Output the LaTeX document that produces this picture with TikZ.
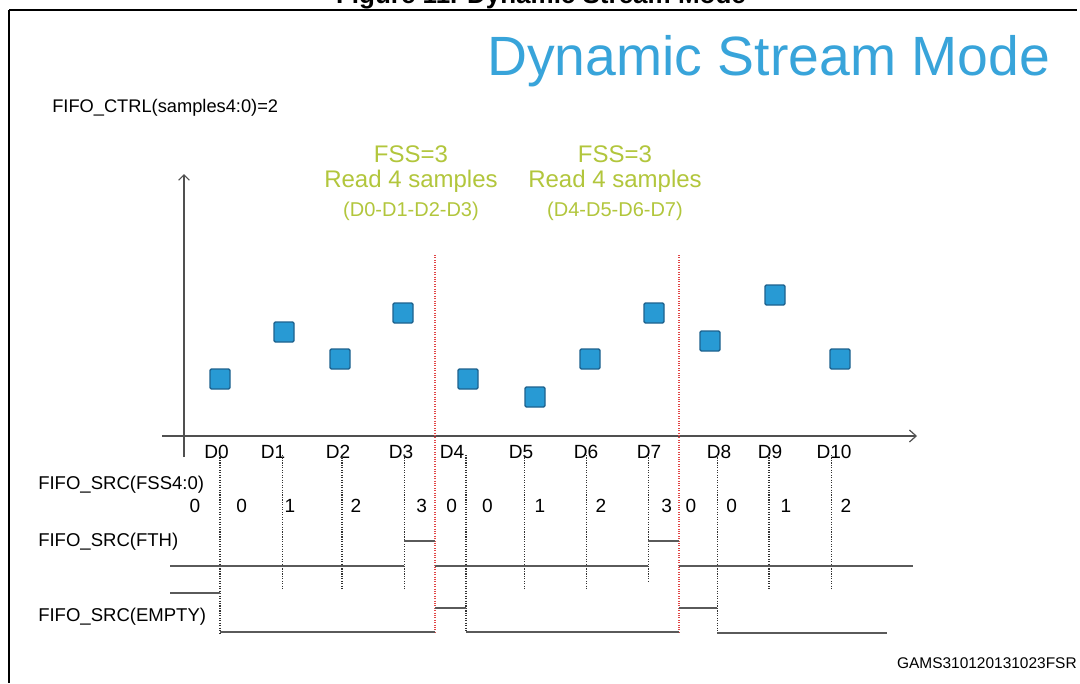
\documentclass[tikz,border=0pt]{standalone}
\usepackage{fontspec}
\setmainfont{Liberation Sans}
\usetikzlibrary{arrows.meta}
\definecolor{titleblue}{RGB}{56,164,218}
\definecolor{fssgreen}{RGB}{178,198,60}
\definecolor{sqfill}{RGB}{40,154,212}
\definecolor{sqdraw}{RGB}{30,98,142}
\definecolor{wavegray}{RGB}{90,90,90}
\definecolor{axisgray}{RGB}{80,80,80}
\definecolor{reddot}{RGB}{225,70,70}
\tikzset{
  sq/.style={draw=sqdraw, fill=sqfill, line width=1pt, minimum size=15pt, inner sep=0pt, rounded corners=1pt},
  tlabel/.style={font=\fontsize{14.3}{16}\selectfont, inner sep=0pt},
  fssval/.style={font=\fontsize{14.3}{16}\selectfont, inner sep=0pt},
  siglabel/.style={font=\fontsize{13.9}{16}\selectfont, inner sep=0pt, anchor=base west},
  grn/.style={text=fssgreen, inner sep=0pt, anchor=base},
  wave/.style={draw=wavegray, line width=1.1pt},
  tickline/.style={draw=black!80, line width=0.85pt, densely dotted},
  redline/.style={draw=reddot, line width=0.8pt, densely dotted},
  axisline/.style={draw=axisgray, line width=0.9pt}
}
\begin{document}
\begin{tikzpicture}[x=0.75pt,y=-0.75pt]
\useasboundingbox (0,0) rectangle (1080,683);
\fill[white] (0,0) rectangle (1080,683);
% frame
\draw[line width=2.2pt] (9,10) -- (1077,10);
\draw[line width=1.6pt] (9,10) -- (9,683);
% caption (cut by the page top, as in the reference)
\node[font=\bfseries\fontsize{19.5}{22}\selectfont, anchor=base, inner sep=0pt] (caption) at (541,3) {Figure 11. Dynamic Stream Mode};
% title
\node[font=\fontsize{41.5}{45}\selectfont, text=titleblue, anchor=base west, inner sep=0pt] (title) at (487,75) {Dynamic Stream Mode};
\node[font=\fontsize{13.7}{16}\selectfont, anchor=base west, inner sep=0pt] (ctrl) at (52,112) {FIFO\_CTRL(samples4:0)=2};
% green annotations
\node[grn, font=\fontsize{18}{20}\selectfont] (fssA) at (411,162) {FSS=3};
\node[grn, font=\fontsize{18}{20}\selectfont] (readA) at (411,187) {Read 4 samples};
\node[grn, font=\fontsize{15}{17}\selectfont] (listA) at (411,216) {(D0-D1-D2-D3)};
\node[grn, font=\fontsize{18}{20}\selectfont] (fssB) at (615,162) {FSS=3};
\node[grn, font=\fontsize{18}{20}\selectfont] (readB) at (615,187) {Read 4 samples};
\node[grn, font=\fontsize{15}{17}\selectfont] (listB) at (615,216) {(D4-D5-D6-D7)};
% axes
\coordinate (yaxb) at (184,457);
\coordinate (yaxt) at (184,174);
\coordinate (xaxl) at (162,436);
\coordinate (xaxr) at (917,436);
\draw[axisline, -{Straight Barb[length=4pt,width=8pt]}] (yaxb) -- (yaxt);
\draw[axisline, -{Straight Barb[length=5pt,width=9pt]}] (xaxl) -- (xaxr);
% red boundaries
\coordinate (rAt) at (435,255); \coordinate (rAb) at (435,633);
\coordinate (rBt) at (679,255); \coordinate (rBb) at (679,633);
\draw[redline] (rAt) -- (rAb);
\draw[redline] (rBt) -- (rBb);
% samples
\node[sq] (d0) at (220,379) {};
\node[sq] (d1) at (284,332) {};
\node[sq] (d2) at (340,359) {};
\node[sq] (d3) at (403,313) {};
\node[sq] (d4) at (468,379) {};
\node[sq] (d5) at (535,397) {};
\node[sq] (d6) at (590,359) {};
\node[sq] (d7) at (654,313) {};
\node[sq] (d8) at (710,341) {};
\node[sq] (d9) at (775,295) {};
\node[sq] (d10) at (840,359) {};
% time labels
\node[tlabel] (t0) at (216.5,452) {D0};
\node[tlabel] (t1) at (273,452) {D1};
\node[tlabel] (t2) at (338,452) {D2};
\node[tlabel] (t3) at (401,452) {D3};
\node[tlabel] (t4) at (452,452) {D4};
\node[tlabel] (t5) at (521,452) {D5};
\node[tlabel] (t6) at (586,452) {D6};
\node[tlabel] (t7) at (649,452) {D7};
\node[tlabel] (t8) at (719,452) {D8};
\node[tlabel] (t9) at (770,452) {D9};
\node[tlabel] (t10) at (834,452) {D10};
% dotted sample lines
\draw[tickline] (220,455) -- (220,633);
\draw[tickline] (282.7,455) -- (282.7,589);
\draw[tickline] (342,455) -- (342,589);
\draw[tickline] (404.3,455) -- (404.3,589);
\draw[tickline] (466,455) -- (466,632);
\draw[tickline] (524.7,455) -- (524.7,589);
\draw[tickline] (586.7,455) -- (586.7,589);
\draw[tickline] (648.3,455) -- (648.3,582);
\draw[tickline] (717.3,455) -- (717.3,633);
\draw[tickline] (769,455) -- (769,589);
\draw[tickline] (831.7,455) -- (831.7,589);
% signal names
\node[siglabel] (sfss) at (38,489.5) {FIFO\_SRC(FSS4:0)};
\node[siglabel] (sfth) at (38,546.5) {FIFO\_SRC(FTH)};
\node[siglabel] (semp) at (38,621.5) {FIFO\_SRC(EMPTY)};
% FSS values
\node[fssval] (v0) at (195,506) {0};
\node[fssval] (v1) at (241.7,506) {0};
\node[fssval] (v2) at (290,506) {1};
\node[fssval] (v3) at (356,506) {2};
\node[fssval] (v4) at (421.7,506) {3};
\node[fssval] (v5) at (451.7,506) {0};
\node[fssval] (v6) at (487.3,506) {0};
\node[fssval] (v7) at (540,506) {1};
\node[fssval] (v8) at (601,506) {2};
\node[fssval] (v9) at (666.7,506) {3};
\node[fssval] (v10) at (691,506) {0};
\node[fssval] (v11) at (731.7,506) {0};
\node[fssval] (v12) at (786,506) {1};
\node[fssval] (v13) at (846,506) {2};
% FTH waveform
\draw[wave] (170,566) -- (404.3,566);
\draw[wave] (404.3,541) -- (435,541);
\draw[wave] (435,566) -- (648.3,566);
\draw[wave] (648.3,541) -- (679,541);
\draw[wave] (679,566) -- (913,566);
% EMPTY waveform
\draw[wave] (170,593) -- (220,593);
\draw[wave] (220,632) -- (435,632);
\draw[wave] (435,608) -- (466,608);
\draw[wave] (466,632) -- (679,632);
\draw[wave] (679,608) -- (717.3,608);
\draw[wave] (717.3,633) -- (887,633);
% reference id
\node[font=\fontsize{11.6}{13}\selectfont, anchor=base east, inner sep=0pt] (gams) at (1077,668.5) {GAMS310120131023FSR};
\end{tikzpicture}
\end{document}
